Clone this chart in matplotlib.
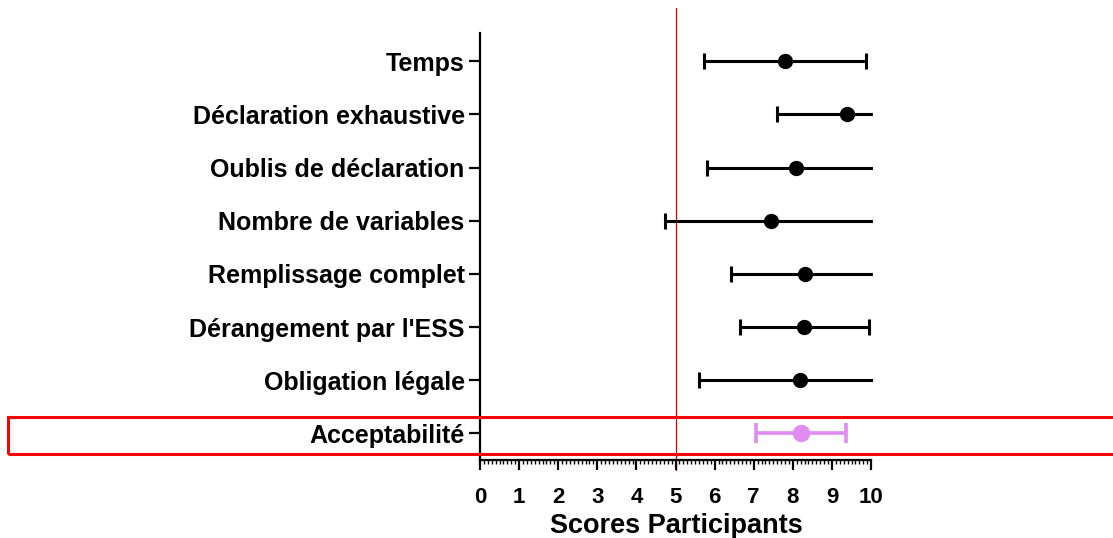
import matplotlib
matplotlib.use('Agg')
import matplotlib.pyplot as plt
from matplotlib.patches import Rectangle
from matplotlib.ticker import MultipleLocator

plt.rcParams['font.family'] = ['Liberation Sans', 'DejaVu Sans']
plt.rcParams['font.weight'] = 'bold'

# data
categories = ["Temps", "Déclaration exhaustive", "Oublis de déclaration",
              "Nombre de variables", "Remplissage complet",
              "Dérangement par l'ESS", "Obligation légale", "Acceptabilité"]
means = [7.80, 9.39, 8.08, 7.43, 8.31, 8.28, 8.18, 8.20]
lows = [5.72, 7.60, 5.81, 4.73, 6.41, 6.64, 5.59, 7.06]
highs = [9.88, 11.2, 10.4, 10.1, 10.2, 9.94, 10.8, 9.36]
threshold = 5
xticks = list(range(0, 11))

fig = plt.figure(figsize=(11.13, 5.38), dpi=100)
ax = fig.add_axes([480 / 1113, 1 - 460 / 538, 393.4 / 1113, 427 / 538])

ypos = list(range(len(categories)))
for i in ypos:
    highlight = (i == len(categories) - 1)
    col = '#E08CF0' if highlight else 'black'
    ax.errorbar([means[i]], [i],
                xerr=[[means[i] - lows[i]], [highs[i] - means[i]]],
                fmt='o', color=col, ecolor=col,
                markersize=11.5 if highlight else 10,
                elinewidth=2.6 if highlight else 2.2,
                capsize=7.5 if highlight else 6,
                capthick=2.6 if highlight else 2.2, zorder=3)

ax.axvline(threshold, ymin=-0.023, ymax=1.058, color='#E00000',
           linewidth=0.9, clip_on=False, zorder=1)

ax.set_xlim(0, 10.06)
ax.set_ylim(len(categories) - 0.5, -0.53)
ax.set_yticks(ypos)
ax.set_yticklabels(categories, fontsize=18, fontweight='bold')
ax.set_xticks(xticks)
ax.set_xticklabels([str(t) for t in xticks], fontsize=16, fontweight='bold')
ax.xaxis.set_minor_locator(MultipleLocator(0.1))
ax.set_xlabel('Scores Participants', fontsize=19.5, fontweight='bold', labelpad=4)

for s in ['top', 'right']:
    ax.spines[s].set_visible(False)
ax.spines['left'].set_linewidth(1.6)
ax.spines['bottom'].set_linewidth(1.6)
ax.spines['bottom'].set_bounds(0, 10)
ax.tick_params(axis='y', length=8, width=1.6, pad=3)
ax.tick_params(axis='x', which='major', length=7.2, width=1.6, pad=12)
ax.tick_params(axis='x', which='minor', length=3, width=1)

# highlight box around the last row
fig.patches.append(Rectangle((8 / 1113, 1 - 454 / 538), 1.2, 37 / 538,
                             transform=fig.transFigure, fill=False,
                             edgecolor='#FF0000', linewidth=2.2))

plt.savefig('out.png', dpi=100)
